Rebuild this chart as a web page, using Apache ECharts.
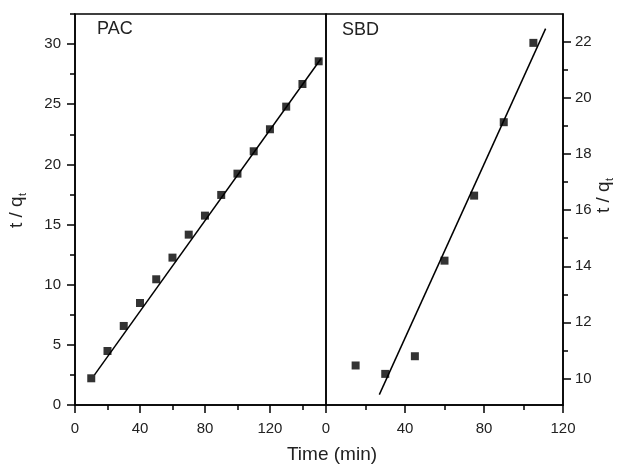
<!DOCTYPE html>
<html>
<head>
    <meta charset="utf-8">
    <title>t/qt vs time</title>
    <script src="https://cdn.jsdelivr.net/npm/echarts@6/dist/echarts.min.js"></script>
</head>
<body style="margin:0">
    <div id="main" style="width:625px; height:465px;"></div>
    <script>
        // PAC panel (left)
        var pacTime = [10, 20, 30, 40, 50, 60, 70, 80, 90, 100, 110, 120, 130, 140, 150]
        var pacVal = [2.22, 4.49, 6.57, 8.48, 10.45, 12.25, 14.16, 15.74, 17.46, 19.23, 21.09, 22.92, 24.8, 26.68, 28.57]
        var pacFitX = [12, 151.5]
        var pacFitY = [2.5, 28.8]

        // SBD panel (right)
        var sbdTime = [15, 30, 45, 60, 75, 90, 105]
        var sbdVal = [10.46, 10.16, 10.79, 14.2, 16.52, 19.14, 21.97]
        var sbdFitX = [27, 111.2]
        var sbdFitY = [9.42, 22.48]

        // tick labels
        var pacXTicks = [0, 40, 80, 120]
        var pacXMinor = [20, 60, 100, 140]
        var pacYTicks = [0, 5, 10, 15, 20, 25, 30]
        var pacYMinor = [2.5, 7.5, 12.5, 17.5, 22.5, 27.5, 32.5]
        var sbdXTicks = [0, 40, 80, 120]
        var sbdXMinor = [20, 60, 100]
        var sbdYTicks = [10, 12, 14, 16, 18, 20, 22]
        var sbdYMinor = [11, 13, 15, 17, 19, 21]

        var font = 'Liberation Sans, Arial, sans-serif'
        var ink = '#222'

        var pairs = function(xs, ys) {
            var out = []
            for (var i = 0; i < xs.length; i++) {
                out.push([xs[i], ys[i]])
            }
            return out
        }

        // main axis: line, long ticks and labels at given values
        var mainAxis = function(grid, pos, min, max, ticks, margin) {
            return {
                type: 'value', gridIndex: grid, position: pos, min: min, max: max,
                axisLine: {show: true, onZero: false, lineStyle: {color: '#000', width: 1.5}},
                axisTick: {show: true, inside: false, length: 8, customValues: ticks,
                    lineStyle: {color: '#000', width: 1.5}},
                axisLabel: {show: true, customValues: ticks, margin: margin,
                    fontFamily: font, fontSize: 15, color: ink},
                splitLine: {show: false}
            }
        }

        // overlay axis: only the short in-between ticks
        var minorAxis = function(grid, pos, min, max, ticks) {
            return {
                type: 'value', gridIndex: grid, position: pos, min: min, max: max,
                axisLine: {show: false, onZero: false},
                axisTick: {show: true, inside: false, length: 5, customValues: ticks,
                    lineStyle: {color: '#000', width: 1.5}},
                axisLabel: {show: false},
                splitLine: {show: false}
            }
        }

        var myChart = echarts.init(document.querySelector('#main'))

        var option = {
            animation: false,
            backgroundColor: '#fff',
            grid: [
                {left: 75, top: 14, width: 251, height: 391, show: true,
                    borderColor: '#000', borderWidth: 1.5},
                {left: 326, top: 14, width: 237, height: 391, show: true,
                    borderColor: '#000', borderWidth: 1.5}
            ],
            xAxis: [
                mainAxis(0, 'bottom', 0, 154.5, pacXTicks, 16),
                mainAxis(1, 'bottom', 0, 120, sbdXTicks, 16),
                minorAxis(0, 'bottom', 0, 154.5, pacXMinor),
                minorAxis(1, 'bottom', 0, 120, sbdXMinor)
            ],
            yAxis: [
                mainAxis(0, 'left', 0, 32.5, pacYTicks, 14),
                mainAxis(1, 'right', 9.05, 23, sbdYTicks, 12),
                minorAxis(0, 'left', 0, 32.5, pacYMinor),
                minorAxis(1, 'right', 9.05, 23, sbdYMinor)
            ],
            series: [
                {
                    type: 'line', xAxisIndex: 0, yAxisIndex: 0,
                    data: pairs(pacFitX, pacFitY),
                    showSymbol: false, lineStyle: {color: '#000', width: 1.5}
                },
                {
                    type: 'scatter', xAxisIndex: 0, yAxisIndex: 0,
                    data: pairs(pacTime, pacVal),
                    symbol: 'rect', symbolSize: 8, itemStyle: {color: '#000'}
                },
                {
                    type: 'line', xAxisIndex: 1, yAxisIndex: 1,
                    data: pairs(sbdFitX, sbdFitY),
                    showSymbol: false, lineStyle: {color: '#000', width: 1.5}
                },
                {
                    type: 'scatter', xAxisIndex: 1, yAxisIndex: 1,
                    data: pairs(sbdTime, sbdVal),
                    symbol: 'rect', symbolSize: 8, itemStyle: {color: '#000'}
                }
            ],
            graphic: [
                {type: 'text', left: 97, top: 20,
                    style: {text: 'PAC', fontFamily: font, fontSize: 18, fill: ink}},
                {type: 'text', left: 342, top: 21,
                    style: {text: 'SBD', fontFamily: font, fontSize: 18, fill: ink}},
                {type: 'text', x: 332, y: 455,
                    style: {text: 'Time (min)', fontFamily: font, fontSize: 19, fill: ink,
                        align: 'center', verticalAlign: 'middle'}},
                // left y title, reads bottom to top
                {type: 'group', x: 17, y: 228, rotation: Math.PI / 2, children: [
                    {type: 'text', x: 0, y: 0, style: {text: 't / q', fontFamily: font, fontSize: 19,
                        fill: ink, align: 'left', verticalAlign: 'middle'}},
                    {type: 'text', x: 32, y: 6, style: {text: 't', fontFamily: font, fontSize: 11,
                        fill: ink, align: 'left', verticalAlign: 'middle'}}
                ]},
                // right y title
                {type: 'group', x: 604, y: 213, rotation: Math.PI / 2, children: [
                    {type: 'text', x: 0, y: 0, style: {text: 't / q', fontFamily: font, fontSize: 19,
                        fill: ink, align: 'left', verticalAlign: 'middle'}},
                    {type: 'text', x: 32, y: 6, style: {text: 't', fontFamily: font, fontSize: 11,
                        fill: ink, align: 'left', verticalAlign: 'middle'}}
                ]}
            ]
        }

        myChart.setOption(option)
    </script>
</body>
</html>
